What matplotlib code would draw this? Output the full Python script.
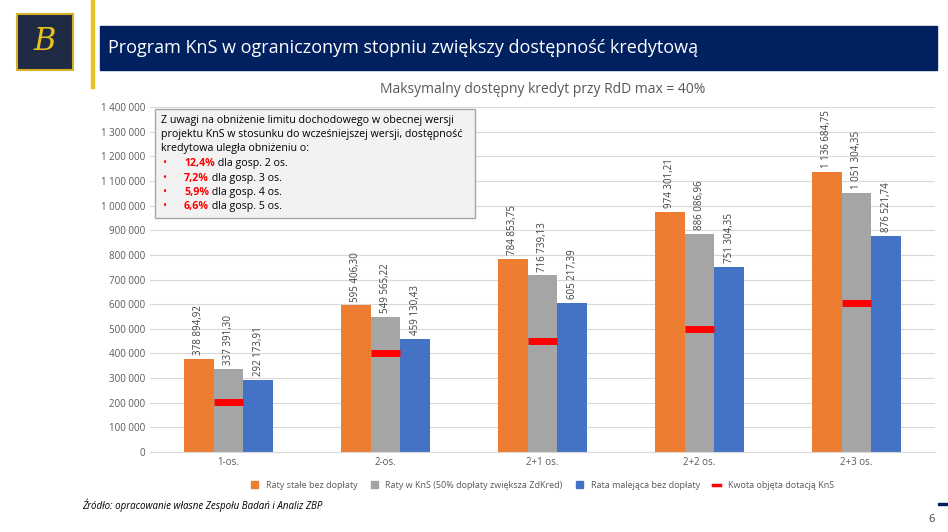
import numpy as np
import matplotlib.pyplot as plt
from matplotlib.patches import Rectangle
from matplotlib.lines import Line2D

categories = ["1-os.", "2-os.", "2+1 os.", "2+2 os.", "2+3 os."]
raty_stale = [378894.92, 595406.30, 784853.75, 974301.21, 1136684.75]
raty_kns = [337391.30, 549565.22, 716739.13, 886086.96, 1051304.35]
raty_malejace = [292173.91, 459130.43, 605217.39, 751304.35, 876521.74]
kwota_dotacji = [203000, 403000, 451000, 500000, 603000]

series_names = ["Raty stałe bez dopłaty",
                "Raty w KnS (50% dopłaty zwiększa ZdKred)",
                "Rata malejąca bez dopłaty"]
colors = ["#ED7D31", "#A5A5A5", "#4472C4"]


def fmt(v):
    s = f"{v:,.2f}".replace(",", " ").replace(".", ",")
    return s


def fmt_tick(v, _):
    return f"{int(v):,}".replace(",", " ")


plt.rcParams['font.family'] = ['Open Sans', 'DejaVu Sans']
fig = plt.figure(figsize=(9.48, 5.32), dpi=100)

# header
fig.patches.append(Rectangle((100 / 948, 1 - 70 / 532), 837 / 948, 44 / 532,
                             transform=fig.transFigure, color="#002060"))
fig.text(108 / 948, 1 - 48 / 532, "Program KnS w ograniczonym stopniu zwiększy dostępność kredytową",
         color="white", fontsize=13, va="center")
fig.patches.append(Rectangle((91 / 948, 1 - 88 / 532), 3 / 948, 88 / 532,
                             transform=fig.transFigure, color="#E8C21F"))
# logo
fig.patches.append(Rectangle((17 / 948, 1 - 70 / 532), 56 / 948, 56 / 532,
                             transform=fig.transFigure, facecolor="#1F2A44",
                             edgecolor="#D4B02A", lw=1.5))
fig.text(45 / 948, 1 - 42 / 532, "B", color="#E8C21F", fontsize=22, family="DejaVu Serif",
         ha="center", va="center", style="italic")

ax = fig.add_axes([150 / 948, 80 / 532, 785 / 948, 345 / 532])
x = np.arange(len(categories))
w = 0.19
handles = []
for i, (vals, col, name) in enumerate(zip([raty_stale, raty_kns, raty_malejace], colors, series_names)):
    xs = x + (i - 1) * w
    ax.bar(xs, vals, w, color=col, zorder=2)
    handles.append(Rectangle((0, 0), 1, 1, color=col, label=name))
    for xi, v in zip(xs, vals):
        ax.text(xi, v + 15000, fmt(v), rotation=90, ha="center", va="bottom",
                fontsize=7, color="#404040")
ax.hlines(kwota_dotacji, x - w / 2, x + w / 2, color="#FF0000", lw=5, zorder=3)
handles.append(Line2D([], [], color="#FF0000", lw=2.5, label="Kwota objęta dotacją KnS"))

ax.set_xlim(-0.5, 4.5)
ax.set_ylim(0, 1400000)
ax.set_yticks(np.arange(0, 1400001, 100000))
ax.yaxis.set_major_formatter(fmt_tick)
ax.set_xticks(x)
ax.set_xticklabels(categories)
ax.tick_params(length=0, labelsize=7, colors="#595959")
ax.grid(axis="y", color="#D9D9D9", lw=0.8, zorder=0)
for s in ["top", "right", "left"]:
    ax.spines[s].set_visible(False)
ax.spines["bottom"].set_color("#D9D9D9")

ax.set_title("Maksymalny dostępny kredyt przy RdD max = 40%", fontsize=10,
             color="#595959", pad=10)

ax.legend(handles=handles, loc="upper center", bbox_to_anchor=(0.5, -0.06), ncol=4,
          frameon=False, fontsize=6.5, handlelength=0.8, handleheight=0.8,
          columnspacing=1.5, labelcolor="#595959")

# annotation box
fig.patches.append(Rectangle((155 / 948, 1 - 218 / 532), 320 / 948, 109 / 532,
                             transform=fig.transFigure, facecolor="#F2F2F2",
                             edgecolor="#A6A6A6", lw=1, zorder=5))
fs = 7.7
lines = ["Z uwagi na obniżenie limitu dochodowego w obecnej wersji",
         "projektu KnS w stosunku do wcześniejszej wersji, dostępność",
         "kredytowa uległa obniżeniu o:"]
for k, t in enumerate(lines):
    fig.text(161 / 948, 1 - (120 + k * 14.5) / 532, t, fontsize=fs, va="center", zorder=6)
bullets = [("12,4%", " dla gosp. 2 os."), ("7,2%", " dla gosp. 3 os."),
           ("5,9%", " dla gosp. 4 os."), ("6,6%", " dla gosp. 5 os.")]
for k, (p, t) in enumerate(bullets):
    yy = 1 - (163.5 + k * 14.5) / 532
    fig.text(162 / 948, yy, "•", color="red", fontsize=fs, va="center", zorder=6)
    tp = fig.text(184 / 948, yy, p, color="red", fontsize=fs, weight="bold", va="center", zorder=6)
    fig.canvas.draw()
    bb = tp.get_window_extent()
    fig.text(bb.x1 / 948, yy, t, fontsize=fs, va="center", zorder=6)

fig.text(82 / 948, 1 - 505 / 532, "Źródło: opracowanie własne Zespołu Badań i Analiz ZBP",
         fontsize=7, style="italic", va="center")
fig.text(928 / 948, 1 - 520 / 532, "6", fontsize=8, color="#404040", va="center")
fig.patches.append(Rectangle((938 / 948, 1 - 505 / 532), 10 / 948, 2 / 532,
                             transform=fig.transFigure, color="#002060"))

fig.savefig("out.png", dpi=100)
